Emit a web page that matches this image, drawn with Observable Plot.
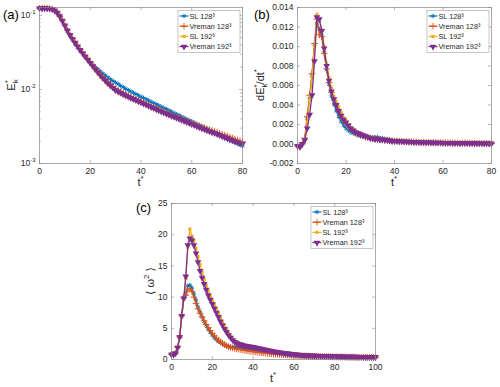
<!DOCTYPE html>
<html><head><meta charset="utf-8">
<script src="https://cdn.jsdelivr.net/npm/d3@7"></script>
<script src="https://cdn.jsdelivr.net/npm/@observablehq/plot@0.6"></script>
<style>
body{margin:0;background:#fff;}
#wrap{position:relative;width:500px;height:387px;font-family:"Liberation Sans",Arial,"DejaVu Sans",sans-serif;}
#wrap svg{position:absolute;overflow:visible;}
</style></head><body><div id="wrap"></div>
<script>
const seriesNames = ["SL 128³","Vreman 128³","SL 192³","Vreman 192³"];
const seriesColors = ["#0072BD","#D95319","#EDB120","#7E2F8E"];
const seriesSymbols = ["asterisk","plus","square","triangle"];
const seriesR = [2.1, 2.3, 1.8, 2.5];
const seriesRotate = [0, 0, 0, 180];

const tAB = d3.range(0, 81);
const tC = d3.range(0, 101);

// (a) E_k*
const eSL128 = [0.125,0.125,0.1249,0.1246,0.1237,0.1212,0.1160,0.1078,0.0965,0.0840,
 0.0720,0.0612,0.0530,0.0466,0.0413,0.0369,0.0333,0.0302,0.0275,0.0252,
 0.0232,0.0214,0.0200,0.0187,0.0175,0.0164,0.0154,0.0145,0.0137,0.0130,
 0.0124,0.0118,0.0112,0.0107,0.0102,0.0098,0.0094,0.0090,0.00865,0.00830,
 0.00798,0.00767,0.00737,0.00709,0.00682,0.00656,0.00631,0.00607,0.00584,0.00562,
 0.00541,0.00521,0.00501,0.00482,0.00464,0.00446,0.00429,0.00413,0.00397,0.00382,
 0.00368,0.00354,0.00341,0.00328,0.00316,0.00304,0.00293,0.00282,0.00271,0.00261,
 0.00251,0.00242,0.00233,0.00224,0.00216,0.00208,0.00200,0.00193,0.00186,0.00179,
 0.00172];
const eVr128 = [0.125,0.125,0.1249,0.1246,0.1237,0.1212,0.1160,0.1078,0.0968,0.0848,
 0.0733,0.0630,0.0548,0.0485,0.0431,0.0385,0.0346,0.0312,0.0283,0.0257,
 0.0234,0.0213,0.0194,0.0177,0.0162,0.0148,0.0136,0.0126,0.0117,0.0109,
 0.0102,0.00972,0.00930,0.00892,0.00857,0.00825,0.00795,0.00766,0.00739,0.00714,
 0.00690,0.00665,0.00641,0.00618,0.00597,0.00577,0.00557,0.00537,0.00519,0.00502,
 0.00485,0.00470,0.00455,0.00440,0.00427,0.00414,0.00401,0.00389,0.00377,0.00365,
 0.00354,0.00343,0.00332,0.00322,0.00312,0.00303,0.00294,0.00286,0.00278,0.00270,
 0.00263,0.00255,0.00248,0.00241,0.00234,0.00227,0.00220,0.00213,0.00207,0.00201,
 0.00195];
const eSL192 = [0.125,0.125,0.1249,0.1246,0.1238,0.1215,0.1165,0.1085,0.0975,0.0850,
 0.0730,0.0625,0.0545,0.0482,0.0428,0.0382,0.0343,0.0309,0.0279,0.0252,
 0.0224,0.0200,0.0180,0.0163,0.0148,0.0136,0.0125,0.0116,0.0108,0.0101,
 0.00945,0.00905,0.00868,0.00834,0.00803,0.00775,0.00748,0.00722,0.00698,0.00676,
 0.00655,0.00632,0.00611,0.00591,0.00571,0.00553,0.00540,0.00521,0.00503,0.00486,
 0.00470,0.00455,0.00440,0.00426,0.00413,0.00400,0.00387,0.00375,0.00363,0.00351,
 0.00340,0.00329,0.00318,0.00308,0.00298,0.00289,0.00280,0.00272,0.00264,0.00257,
 0.00250,0.00241,0.00233,0.00226,0.00219,0.00212,0.00205,0.00199,0.00193,0.00188,
 0.00183];
const eVr192 = [0.125,0.125,0.1249,0.1246,0.1238,0.1215,0.1165,0.1085,0.0975,0.0850,
 0.0730,0.0625,0.0545,0.0482,0.0428,0.0382,0.0343,0.0309,0.0279,0.0252,
 0.0228,0.0206,0.0187,0.0170,0.0155,0.0142,0.0131,0.0121,0.0113,0.0105,
 0.00980,0.00937,0.00898,0.00862,0.00829,0.00799,0.00770,0.00742,0.00717,0.00693,
 0.00670,0.00645,0.00622,0.00600,0.00579,0.00560,0.00540,0.00521,0.00503,0.00486,
 0.00470,0.00455,0.00440,0.00426,0.00413,0.00400,0.00387,0.00375,0.00363,0.00351,
 0.00340,0.00329,0.00318,0.00308,0.00298,0.00289,0.00280,0.00272,0.00264,0.00257,
 0.00250,0.00241,0.00233,0.00226,0.00219,0.00212,0.00205,0.00199,0.00193,0.00189,
 0.00185];

// (b) dE_k*/dt*
const dSL128 = [-0.0002,-0.0003,0.0000,0.0005,0.0026,0.0047,0.0070,0.0102,0.0124,0.0118,
 0.0111,0.0094,0.0076,0.0061,0.0049,0.0041,0.0034,0.0028,0.0023,0.0019,
 0.0016,0.0014,0.0012,0.0011,0.0010,0.0009,0.0008,0.0008,0.0007,0.0007,
 0.0007,0.0007,0.0007,0.0007,0.0006,0.0006,0.0005,0.0005,0.00045,0.0004,
 0.0004,0.00035,0.0003,0.00028,0.00026,0.00025,0.00024,0.00023,0.00022,0.0002,
 0.00019,0.00018,0.00017,0.00016,0.00016,0.00015,0.00014,0.00014,0.00013,0.00013,
 0.00012,0.00012,0.00011,0.00011,0.0001,0.0001,0.0001,0.00009,0.00009,0.00009,
 0.00008,0.00008,0.00008,0.00007,0.00007,0.00007,0.00006,0.00006,0.00006,0.00005,
 0.00005];
const dVr128 = [-0.0002,-0.0003,0.0000,0.0006,0.0028,0.0050,0.0072,0.0103,0.0128,0.0112,
 0.0110,0.0093,0.0077,0.0063,0.0053,0.0045,0.0039,0.0033,0.0028,0.0024,
 0.0021,0.0018,0.0015,0.0013,0.0012,0.0010,0.0009,0.0008,0.0007,0.0007,
 0.0006,0.00055,0.0005,0.0005,0.00045,0.00045,0.0004,0.0004,0.00035,0.0003,
 0.0003,0.0003,0.00028,0.00026,0.00025,0.00024,0.00023,0.00022,0.0002,0.0002,
 0.00019,0.00018,0.00017,0.00016,0.00016,0.00015,0.00014,0.00014,0.00013,0.00013,
 0.00012,0.00012,0.00011,0.00011,0.0001,0.0001,0.0001,0.00009,0.00009,0.00009,
 0.00008,0.00008,0.00008,0.00007,0.00007,0.00007,0.00006,0.00006,0.00006,0.00005,
 0.00005];
const dSL192 = [-0.0002,-0.0003,0.0000,0.0005,0.0022,0.0045,0.0068,0.0100,0.0133,0.0127,
 0.0117,0.0100,0.0083,0.0068,0.0058,0.0049,0.0043,0.0037,0.0032,0.0027,
 0.0024,0.0020,0.0017,0.0015,0.0013,0.0011,0.0010,0.0009,0.0008,0.0007,
 0.0006,0.0006,0.0005,0.0005,0.00045,0.00045,0.0004,0.0004,0.00035,0.0003,
 0.0003,0.0003,0.00028,0.00026,0.00025,0.00024,0.00023,0.00022,0.0002,0.0002,
 0.00019,0.00018,0.00017,0.00016,0.00016,0.00015,0.00014,0.00014,0.00013,0.00013,
 0.00012,0.00012,0.00011,0.00011,0.0001,0.0001,0.0001,0.00009,0.00009,0.00009,
 0.00008,0.00008,0.00008,0.00007,0.00007,0.00007,0.00006,0.00006,0.00006,0.00005,
 0.00005];
const dVr192 = [-0.0002,-0.0003,0.0000,0.0004,0.0016,0.0030,0.0050,0.0085,0.0130,0.0128,
 0.0116,0.0098,0.0080,0.0065,0.0054,0.0046,0.0040,0.0034,0.0029,0.0025,
 0.0022,0.0019,0.0016,0.0014,0.0012,0.0011,0.0010,0.0009,0.0008,0.0007,
 0.0006,0.00055,0.0005,0.0005,0.00045,0.00045,0.0004,0.0004,0.00035,0.0003,
 0.0003,0.0003,0.00028,0.00026,0.00025,0.00024,0.00023,0.00022,0.0002,0.0002,
 0.00019,0.00018,0.00017,0.00016,0.00016,0.00015,0.00014,0.00014,0.00013,0.00013,
 0.00012,0.00012,0.00011,0.00011,0.0001,0.0001,0.0001,0.00009,0.00009,0.00009,
 0.00008,0.00008,0.00008,0.00007,0.00007,0.00007,0.00006,0.00006,0.00006,0.00005,
 0.00005];

// (c) <omega^2>
const wSL128 = [0.8,0.8,1.0,2.0,3.6,7.0,9.9,10.6,11.8,11.9,
 11.5,10.5,9.5,8.4,7.6,6.8,6.1,5.5,4.9,4.4,
 3.9,3.5,3.2,2.9,2.7,2.5,2.3,2.15,2.05,2.0,
 1.97,1.95,1.93,1.9,1.87,1.83,1.79,1.75,1.71,1.67,
 1.63,1.58,1.53,1.48,1.44,1.40,1.34,1.28,1.22,1.16,
 1.10,1.05,1.00,0.95,0.90,0.85,0.81,0.77,0.74,0.72,
 0.70,0.68,0.66,0.64,0.62,0.60,0.59,0.58,0.57,0.56,
 0.55,0.54,0.53,0.52,0.51,0.50,0.49,0.48,0.47,0.46,
 0.45,0.44,0.44,0.43,0.43,0.42,0.42,0.41,0.41,0.40,
 0.40,0.39,0.39,0.38,0.38,0.37,0.37,0.36,0.36,0.35,
 0.35];
const wVr128 = [0.8,0.8,1.0,2.0,3.6,7.0,9.9,10.3,11.2,11.3,
 10.9,10.0,9.0,8.1,7.4,6.8,6.2,5.6,5.1,4.6,
 4.2,3.8,3.4,3.1,2.8,2.6,2.4,2.2,2.05,1.95,
 1.85,1.78,1.71,1.65,1.59,1.53,1.47,1.42,1.37,1.32,
 1.27,1.23,1.19,1.15,1.11,1.07,1.03,0.99,0.96,0.93,
 0.90,0.87,0.84,0.81,0.78,0.76,0.74,0.71,0.69,0.67,
 0.65,0.63,0.62,0.60,0.59,0.57,0.56,0.55,0.53,0.52,
 0.50,0.49,0.49,0.48,0.47,0.46,0.46,0.45,0.44,0.43,
 0.42,0.42,0.41,0.41,0.40,0.40,0.39,0.39,0.38,0.38,
 0.37,0.37,0.36,0.36,0.35,0.35,0.34,0.34,0.34,0.33,
 0.33];
const wSL192 = [0.8,0.8,1.0,1.9,3.5,6.8,9.6,13.0,18.0,20.9,
 19.8,19.0,17.8,16.5,15.2,14.0,12.9,11.9,11.0,10.2,
 9.5,8.8,8.1,7.4,6.7,6.0,5.4,4.8,4.2,3.7,
 3.3,3.0,2.8,2.6,2.5,2.4,2.3,2.2,2.15,2.1,
 2.03,1.96,1.89,1.82,1.75,1.68,1.61,1.54,1.47,1.40,
 1.33,1.28,1.23,1.18,1.13,1.08,1.03,0.99,0.95,0.91,
 0.87,0.84,0.81,0.78,0.75,0.72,0.70,0.68,0.66,0.64,
 0.62,0.61,0.60,0.58,0.57,0.56,0.55,0.54,0.53,0.52,
 0.51,0.50,0.49,0.48,0.48,0.47,0.46,0.46,0.45,0.44,
 0.44,0.43,0.43,0.42,0.42,0.41,0.41,0.40,0.40,0.40,
 0.40];
const wVr192 = [0.8,0.8,1.0,1.9,3.6,7.0,9.8,13.3,18.3,19.4,
 19.1,18.3,17.0,15.6,14.2,13.1,12.1,11.2,10.3,9.6,
 8.9,8.2,7.5,6.8,6.1,5.5,4.9,4.4,3.9,3.5,
 3.1,2.8,2.6,2.5,2.4,2.3,2.2,2.15,2.1,2.05,
 2.0,1.93,1.86,1.79,1.72,1.65,1.58,1.51,1.44,1.37,
 1.30,1.25,1.20,1.15,1.10,1.05,1.00,0.96,0.92,0.88,
 0.84,0.81,0.78,0.75,0.72,0.70,0.68,0.66,0.64,0.62,
 0.60,0.59,0.58,0.57,0.56,0.55,0.54,0.53,0.52,0.51,
 0.50,0.49,0.48,0.47,0.47,0.46,0.45,0.45,0.44,0.43,
 0.43,0.42,0.42,0.41,0.41,0.40,0.40,0.40,0.39,0.39,
 0.39];

// tick values
const xTicksAB = [0,20,40,60,80];
const xTicksC = [0,20,40,60,80,100];
const yTicksA = [0.001,0.01,0.1];
const yMinorA = [0.002,0.003,0.004,0.005,0.006,0.007,0.008,0.009,0.02,0.03,0.04,0.05,0.06,0.07,0.08,0.09];
const yTicksB = [-0.002,0,0.002,0.004,0.006,0.008,0.010,0.012,0.014];
const yTicksC = [0,5,10,15,20,25];

const axisColor = "#858585";
const textColor = "#262626";
const symMap = {asterisk:d3.symbolAsterisk, plus:d3.symbolPlus, square:d3.symbolSquare, triangle:d3.symbolTriangle};

function build(cfg) {
  const pw = cfg.width - cfg.mL - cfg.mR, ph = cfg.height - cfg.mT - cfg.mB;
  const marks = [];
  cfg.vals.forEach((vals, i) => {
    const rows = cfg.t.map((tt, j) => ({t: tt, v: vals[j]}));
    const sym = seriesSymbols[i];
    const strokeSym = sym === "asterisk" || sym === "plus";
    marks.push(Plot.line(rows, {x: "t", y: "v", stroke: seriesColors[i], strokeWidth: 1.3}));
    marks.push(Plot.dot(rows, {x: "t", y: "v", symbol: sym, r: seriesR[i], rotate: seriesRotate[i],
      fill: strokeSym ? "none" : seriesColors[i], stroke: strokeSym ? seriesColors[i] : "none", strokeWidth: 1}));
  });
  const tk = {stroke: axisColor, strokeWidth: 0.6};
  marks.push(Plot.tickX(cfg.xTicks, {x: d => d, insetTop: ph - 3, ...tk}));
  marks.push(Plot.tickX(cfg.xTicks, {x: d => d, insetBottom: ph - 3, ...tk}));
  marks.push(Plot.tickY(cfg.yTicks, {y: d => d, insetRight: pw - 3, ...tk}));
  marks.push(Plot.tickY(cfg.yTicks, {y: d => d, insetLeft: pw - 3, ...tk}));
  if (cfg.yMinor) {
    marks.push(Plot.tickY(cfg.yMinor, {y: d => d, insetRight: pw - 1.8, ...tk}));
    marks.push(Plot.tickY(cfg.yMinor, {y: d => d, insetLeft: pw - 1.8, ...tk}));
  }
  marks.push(Plot.axisX(cfg.xTicks, {tickSize: 0, tickPadding: 4, label: null, fill: textColor}));
  marks.push(Plot.axisY(cfg.yTicks, {tickSize: 0, tickPadding: 4, label: null, tickFormat: cfg.yFormat, fill: textColor}));
  marks.push(Plot.frame({stroke: axisColor, strokeWidth: 0.7}));

  const svg = Plot.plot({
    width: cfg.width, height: cfg.height,
    marginLeft: cfg.mL, marginRight: cfg.mR, marginTop: cfg.mT, marginBottom: cfg.mB,
    x: {domain: cfg.xDomain},
    y: cfg.yScale,
    style: {fontFamily: '"Liberation Sans", Arial, "DejaVu Sans", sans-serif', fontSize: "8.5px", color: textColor, background: "transparent", overflow: "visible"},
    marks
  });
  svg.style.left = cfg.left + "px";
  svg.style.top = cfg.top + "px";
  const s = d3.select(svg);

  // power-of-ten tick labels: "10^-1" -> 10 with superscript
  s.selectAll("text").each(function() {
    if (this.childElementCount === 0 && this.textContent.indexOf("^") > 0) {
      const [base, ex] = this.textContent.split("^");
      this.textContent = base;
      d3.select(this).append("tspan").attr("dy", -4).attr("font-size", 6).text(ex);
    }
  });

  // panel label
  s.append("text").attr("x", cfg.labelPos[0]).attr("y", cfg.labelPos[1]).attr("text-anchor", "start")
    .attr("font-size", 13).attr("fill", "#000").text(cfg.label);

  // x label
  const xl = s.append("text").attr("x", cfg.mL + pw / 2).attr("y", cfg.mT + ph + 23)
    .attr("text-anchor", "middle").attr("font-size", 11).attr("fill", textColor);
  xl.append("tspan").text("t");
  xl.append("tspan").attr("dy", -5).attr("font-size", 8).text("*");

  // y label
  const yl = s.append("text").attr("transform", `translate(${cfg.ylabPos[0]},${cfg.mT + ph / 2}) rotate(-90)`)
    .attr("text-anchor", "middle").attr("font-size", 11).attr("fill", textColor);
  cfg.ylab.forEach(p => {
    const ts = yl.append("tspan").text(p.t);
    if (p.dy) ts.attr("dy", p.dy);
    if (p.dx) ts.attr("dx", p.dx);
    if (p.fs) ts.attr("font-size", p.fs);
  });

  // legend
  const LW = 62, LH = 42;
  const lg = s.append("g").attr("transform", `translate(${cfg.width - cfg.mR - 2 - LW},${cfg.mT + 3.5})`);
  lg.append("rect").attr("width", LW).attr("height", LH).attr("fill", "white").attr("stroke", "#a0a0a0").attr("stroke-width", 0.6);
  seriesNames.forEach((n, i) => {
    const yy = 5.5 + i * 10.2;
    const sym = seriesSymbols[i];
    const strokeSym = sym === "asterisk" || sym === "plus";
    lg.append("line").attr("x1", 1.5).attr("x2", 10.5).attr("y1", yy).attr("y2", yy)
      .attr("stroke", seriesColors[i]).attr("stroke-width", 1.2);
    lg.append("path").attr("d", d3.symbol(symMap[sym], seriesR[i] * seriesR[i] * Math.PI)())
      .attr("transform", `translate(6,${yy}) rotate(${seriesRotate[i]})`)
      .attr("fill", strokeSym ? "none" : seriesColors[i])
      .attr("stroke", strokeSym ? seriesColors[i] : "none").attr("stroke-width", 0.9);
    lg.append("text").attr("x", 11.5).attr("y", yy).attr("dy", "0.35em").attr("text-anchor", "start")
      .attr("font-size", 7.3).attr("fill", textColor).text(n);
  });

  document.getElementById("wrap").appendChild(svg);
}

build({
  left: 0, top: 0, width: 250, height: 190, mL: 39, mR: 8, mT: 7, mB: 27,
  t: tAB, vals: [eSL128, eVr128, eSL192, eVr192],
  xDomain: [0, 80], yScale: {type: "log", domain: [0.001, 0.128]},
  xTicks: xTicksAB, yTicks: yTicksA, yMinor: yMinorA,
  yFormat: d => "10^" + Math.round(Math.log10(d)),
  label: "(a)", labelPos: [3, 19],
  ylabPos: [15],
  ylab: [{t: "E"}, {t: "k", dy: 3, fs: 8}, {t: "*", dy: -8, dx: -4, fs: 8}]
});

build({
  left: 250, top: 0, width: 250, height: 190, mL: 47, mR: 9, mT: 7, mB: 27,
  t: tAB, vals: [dSL128, dVr128, dSL192, dVr192],
  xDomain: [0, 80], yScale: {domain: [-0.002, 0.014]},
  xTicks: xTicksAB, yTicks: yTicksB,
  yFormat: d => d.toFixed(3),
  label: "(b)", labelPos: [4, 19],
  ylabPos: [14],
  ylab: [{t: "dE"}, {t: "k", dy: 3, fs: 8}, {t: "*", dy: -8, dx: -4, fs: 8}, {t: "/dt", dy: 5}, {t: "*", dy: -5, fs: 8}]
});

build({
  left: 120, top: 190, width: 260, height: 197, mL: 51, mR: 5, mT: 13, mB: 28,
  t: tC, vals: [wSL128, wVr128, wSL192, wVr192],
  xDomain: [0, 100], yScale: {domain: [0, 25]},
  xTicks: xTicksC, yTicks: yTicksC,
  yFormat: d => String(d),
  label: "(c)", labelPos: [16, 22],
  ylabPos: [34],
  ylab: [{t: "⟨ ω"}, {t: "2", dy: -5, fs: 8}, {t: " ⟩", dy: 5}]
});
</script></body></html>
